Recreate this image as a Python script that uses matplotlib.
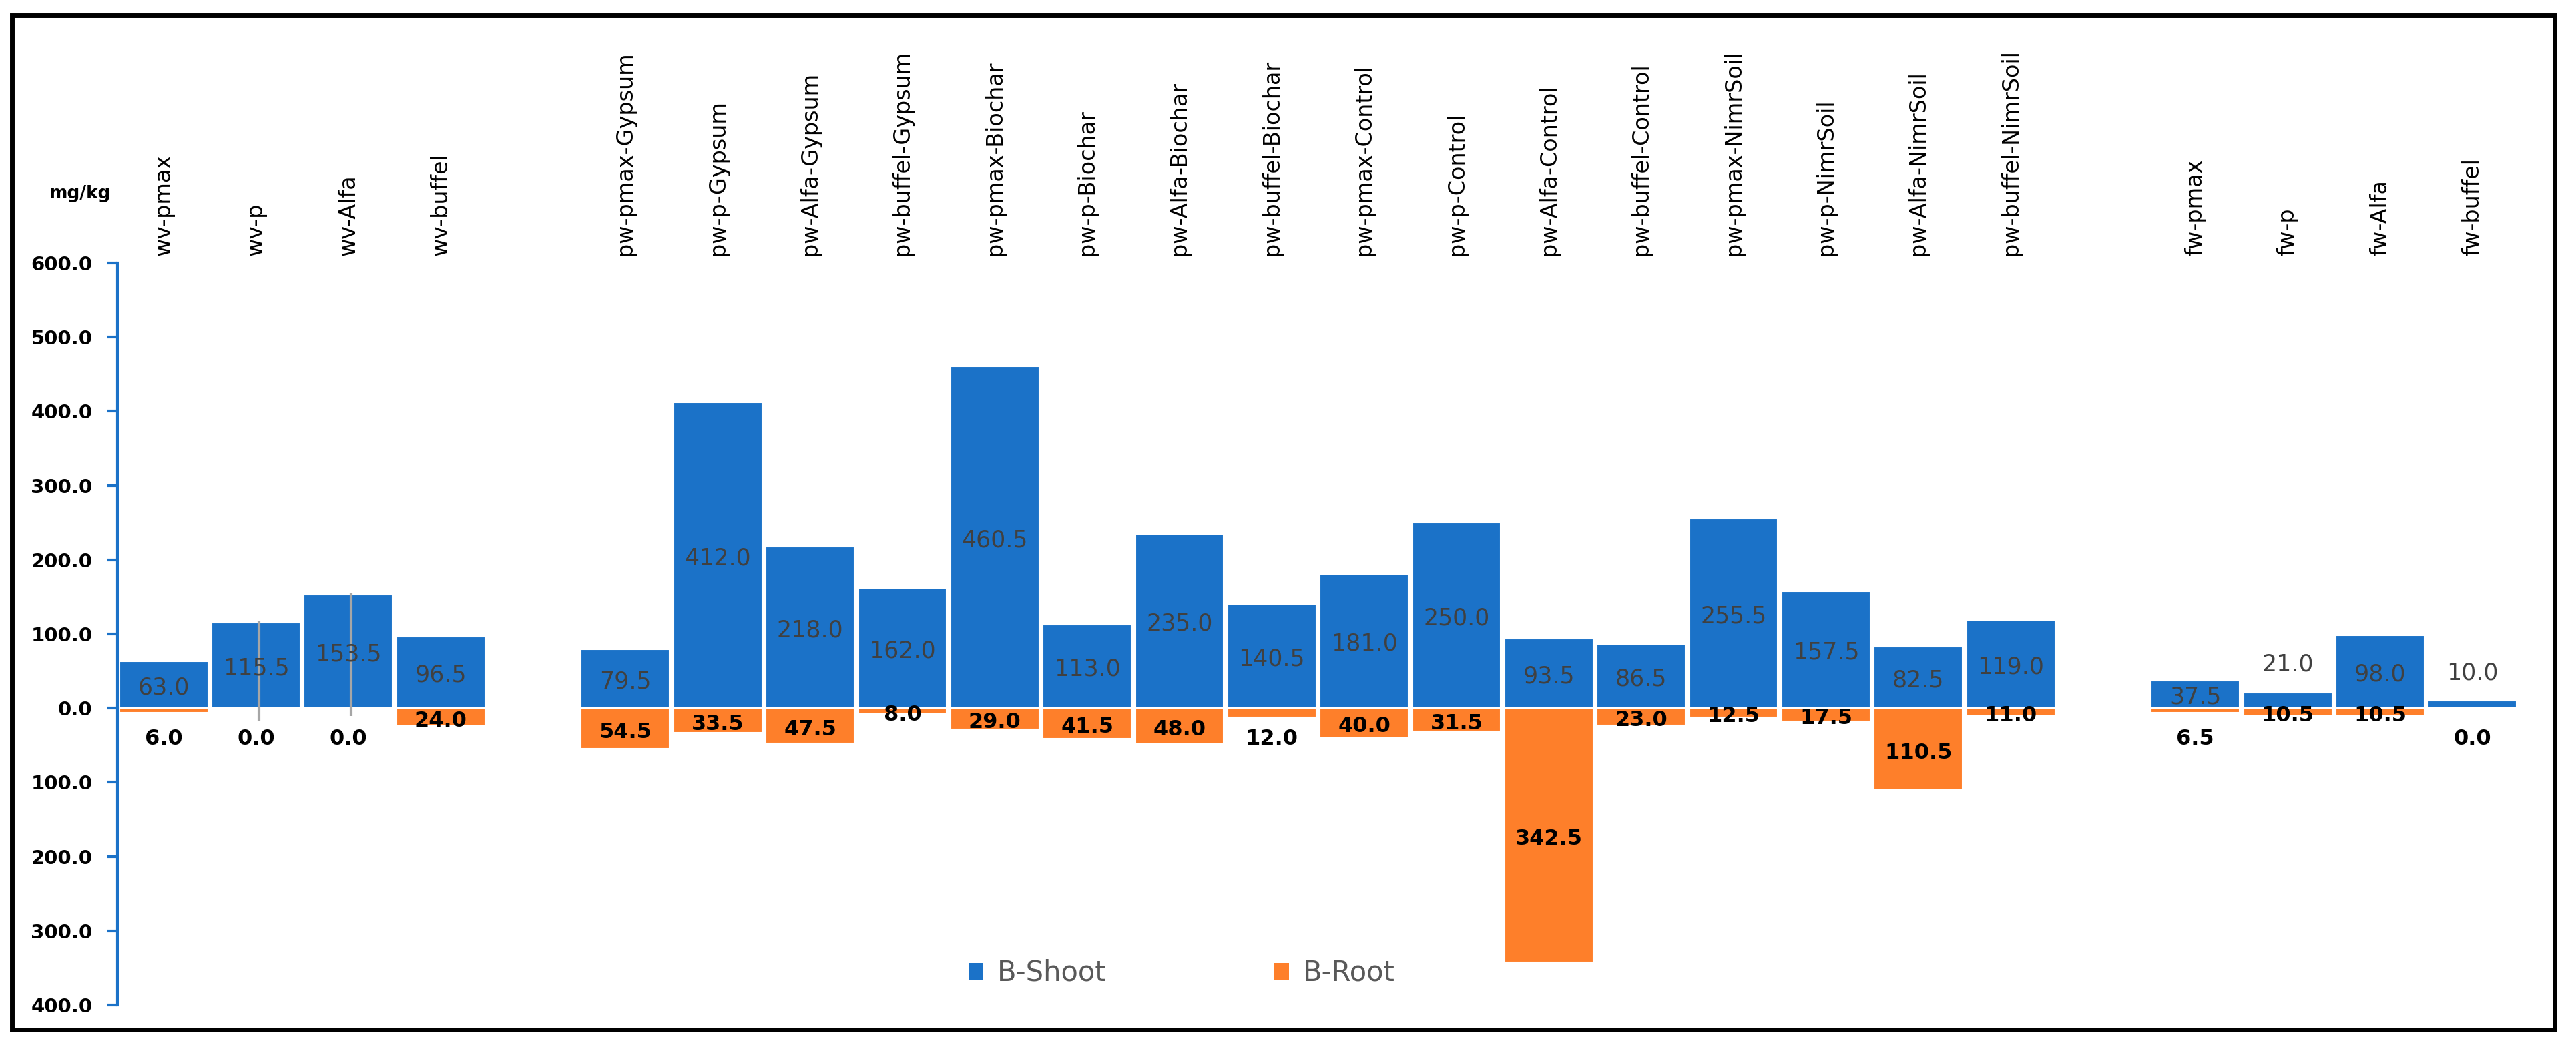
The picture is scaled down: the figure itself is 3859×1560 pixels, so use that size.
import matplotlib
matplotlib.use("Agg")
import matplotlib.pyplot as plt
from matplotlib.patches import Rectangle, Patch
from matplotlib.ticker import FuncFormatter

plt.rcParams['font.family'] = ['DejaVu Sans']

# ---------------- data ----------------
wv_categories = ["wv-pmax", "wv-p", "wv-Alfa", "wv-buffel"]
pw_categories = ["pw-pmax-Gypsum", "pw-p-Gypsum", "pw-Alfa-Gypsum", "pw-buffel-Gypsum",
                 "pw-pmax-Biochar", "pw-p-Biochar", "pw-Alfa-Biochar", "pw-buffel-Biochar",
                 "pw-pmax-Control", "pw-p-Control", "pw-Alfa-Control", "pw-buffel-Control",
                 "pw-pmax-NimrSoil", "pw-p-NimrSoil", "pw-Alfa-NimrSoil", "pw-buffel-NimrSoil"]
fw_categories = ["fw-pmax", "fw-p", "fw-Alfa", "fw-buffel"]

wv_shoot = [63.0, 115.5, 153.5, 96.5]
wv_root = [6.0, 0.0, 0.0, 24.0]
pw_shoot = [79.5, 412.0, 218.0, 162.0, 460.5, 113.0, 235.0, 140.5,
            181.0, 250.0, 93.5, 86.5, 255.5, 157.5, 82.5, 119.0]
pw_root = [54.5, 33.5, 47.5, 8.0, 29.0, 41.5, 48.0, 12.0,
           40.0, 31.5, 342.5, 23.0, 12.5, 17.5, 110.5, 11.0]
fw_shoot = [37.5, 21.0, 98.0, 10.0]
fw_root = [6.5, 10.5, 10.5, 0.0]

# grey vertical lines drawn over two wv bars (top, bottom values)
line_categories = ["wv-p", "wv-Alfa"]
line_top = [117.0, 155.0]
line_bottom = [-17.0, -11.0]

yticks = [-400, -300, -200, -100, 0, 100, 200, 300, 400, 500, 600]

# labels that sit outside the bars in the original
shoot_label_above = ["fw-p", "fw-buffel"]
root_label_below = ["wv-pmax", "wv-p", "wv-Alfa", "pw-buffel-Biochar", "fw-pmax", "fw-buffel"]

# ---------------- layout ----------------
groups = [(wv_categories, wv_shoot, wv_root),
          (pw_categories, pw_shoot, pw_root),
          (fw_categories, fw_shoot, fw_root)]
cats, xs, shoot, root = [], [], [], []
pos = 0
for c, s, r in groups:
    for k in range(len(c)):
        cats.append(c[k]); shoot.append(s[k]); root.append(r[k]); xs.append(pos)
        pos += 1
    pos += 1  # empty slot between groups
n_slots = pos - 1

BLUE = "#1B72C8"
ORANGE = "#FE7F2A"

W, H = 3859, 1560
fig = plt.figure(figsize=(W / 100, H / 100), dpi=100)
ax = fig.add_axes([176 / W, 1 - 1506 / H, (3773 - 176) / W, (1506 - 394) / H])

ax.bar(xs, shoot, width=0.96, color=BLUE, edgecolor="white", linewidth=1.5, label="B-Shoot", zorder=2)
ax.bar(xs, [-v for v in root], width=0.96, color=ORANGE, edgecolor="white", linewidth=1.5, label="B-Root", zorder=2)

# grey lines
lx = [xs[cats.index(c)] + 0.03 for c in line_categories]
ax.vlines(lx, line_bottom, line_top, color="#A6A6A6", linewidth=3, zorder=3)

ax.set_xlim(-0.5, n_slots - 0.5)
ax.set_ylim(-400, 600)
ax.set_yticks(yticks)
ax.yaxis.set_major_formatter(FuncFormatter(lambda v, p: f"{abs(v):.1f}"))
ax.tick_params(axis="y", direction="out", length=11, width=3, color=BLUE, pad=16,
               labelsize=21, labelcolor="black")
for t in ax.get_yticklabels():
    t.set_fontweight("bold")

ax.xaxis.tick_top()
ax.set_xticks(xs)
ax.set_xticklabels(cats, rotation=90, fontsize=24, color="black")
ax.tick_params(axis="x", length=0, pad=8)

for side in ["top", "right", "bottom"]:
    ax.spines[side].set_visible(False)
ax.spines["left"].set_color(BLUE)
ax.spines["left"].set_linewidth(3)

# value labels
for x, c, s, r in zip(xs, cats, shoot, root):
    if c in shoot_label_above:
        ax.annotate(f"{s:.1f}", (x, s), xytext=(0, 18), textcoords="offset points",
                    ha="center", va="bottom", fontsize=25, color="#404040", zorder=4)
    else:
        ax.annotate(f"{s:.1f}", (x, s / 2), xytext=(0, -3), textcoords="offset points",
                    ha="center", va="center", fontsize=25, color="#404040", zorder=4)
    if c in root_label_below:
        ax.annotate(f"{r:.1f}", (x, 0), xytext=(0, -33), textcoords="offset points",
                    ha="center", va="center", fontsize=23, fontweight="bold",
                    color="black", zorder=4)
    else:
        ax.annotate(f"{r:.1f}", (x, -r / 2), xytext=(0, -4), textcoords="offset points",
                    ha="center", va="center", fontsize=23, fontweight="bold",
                    color="black", zorder=4)

fig.text(120 / W, 1 - 290 / H, "mg/kg", ha="center", va="center", fontsize=19,
         fontweight="bold", color="black")

handles = [Patch(facecolor=BLUE, edgecolor="none"), Patch(facecolor=ORANGE, edgecolor="none")]
fig.legend(handles, ["B-Shoot", "B-Root"], loc="center", bbox_to_anchor=(1770 / W, 1 - 1458 / H),
           ncol=2, frameon=False, fontsize=30, labelcolor="#595959",
           handlelength=0.55, handleheight=0.55, handletextpad=0.5, columnspacing=6.0)

fig.patches.append(Rectangle((18 / W, 1 - 1543 / H), (3827 - 18) / W, (1543 - 23) / H,
                             transform=fig.transFigure, fill=False, edgecolor="black", linewidth=5))

fig.savefig("out.png", dpi=100, facecolor="white")
